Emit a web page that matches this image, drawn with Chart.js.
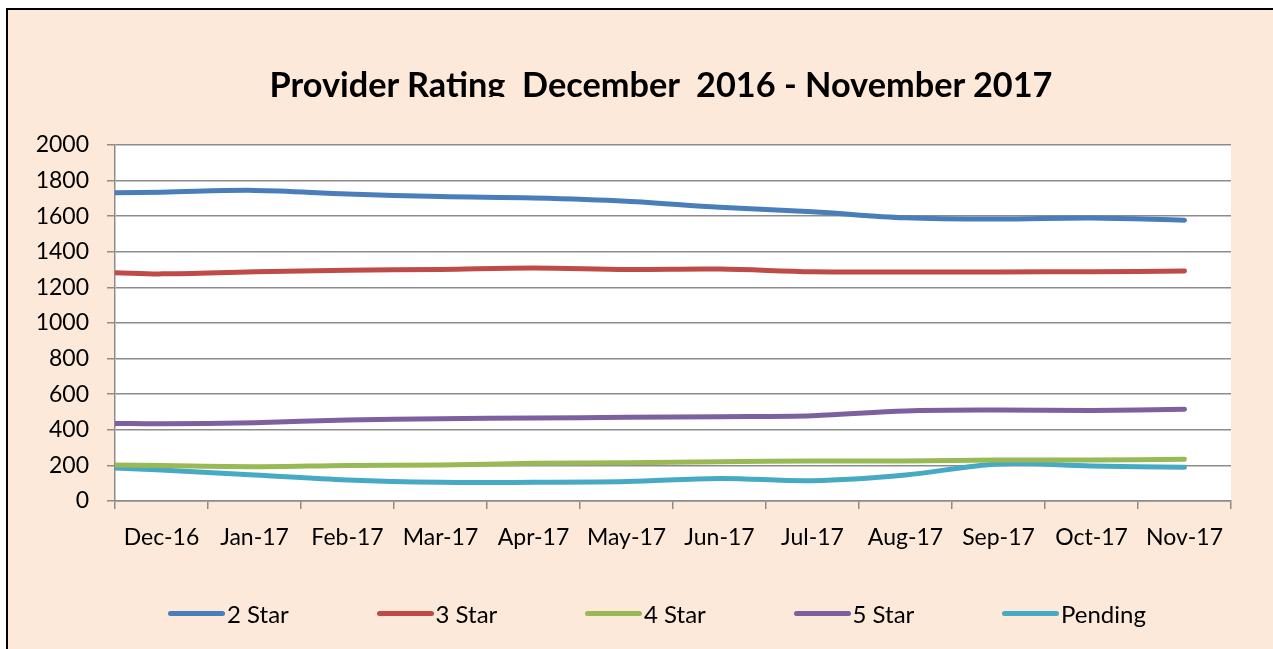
<!DOCTYPE html>
<html>
<head>
<meta charset="utf-8">
<title>Provider Rating</title>
<script src="https://cdn.jsdelivr.net/npm/chart.js@4.4.1/dist/chart.umd.min.js"></script>
<style>
    body { margin: 0; background: #ffffff; font-family: Lato, 'Open Sans', sans-serif; }
    #frame {
        position: absolute; left: 6px; top: 8px; width: 1300px; height: 700px;
        border: 2px solid #000; background: #fde9d9; overflow: hidden;
    }
    #titleClip { position: absolute; left: 0; top: 0; width: 1265px; height: 87px; overflow: hidden; }
    #chartTitle {
        position: absolute; left: 0; width: 1306px; top: 53px; text-align: center;
        font: bold 34.3px Lato, sans-serif; line-height: 1.2; color: #000; white-space: pre;
    }
    #chartBox { position: absolute; left: 0; top: 0; width: 1265px; height: 639px; }
    #legend { position: absolute; left: 0; top: 587px; width: 1265px; height: 40px; }
    .legend-item { position: absolute; top: 0; display: flex; align-items: center; height: 32px; font-size: 24px; color: #000; }
    .legend-line { width: 57px; height: 5px; border-radius: 3px; margin-right: 2px; }
</style>
</head>
<body>
<div id="frame">
    <div id="chartBox"><canvas id="ratingChart"></canvas></div>
    <div id="titleClip"><div id="chartTitle">Provider Rating  December  2016 - November 2017</div></div>
    <div id="legend"></div>
</div>
<script>
// --- 1. DATA ---
const months = ['Dec-16', 'Jan-17', 'Feb-17', 'Mar-17', 'Apr-17', 'May-17', 'Jun-17', 'Jul-17', 'Aug-17', 'Sep-17', 'Oct-17', 'Nov-17'];

const twoStar   = [1735, 1745, 1725, 1710, 1702, 1684, 1650, 1625, 1591, 1584, 1590, 1577];
const threeStar = [1276, 1288, 1296, 1301, 1309, 1301, 1303, 1288, 1287, 1287, 1288, 1292];
const fourStar  = [199, 193, 200, 202, 212, 215, 221, 225, 225, 230, 230, 234];
const fiveStar  = [434, 440, 455, 462, 466, 470, 474, 479, 506, 511, 509, 515];
const pending   = [174, 146, 118, 105, 105, 109, 127, 114, 146, 208, 197, 189];

// the lines run on past Dec-16 to the left axis edge, values read at that edge
const leftEdgeValues = [1732, 1283, 202, 436, 185];

const seriesNames = ['2 Star', '3 Star', '4 Star', '5 Star', 'Pending'];
const seriesColors = ['#4a7ebb', '#be4b48', '#98b954', '#7d60a0', '#46aac5'];
const seriesValues = [twoStar, threeStar, fourStar, fiveStar, pending];

const yTicks = [0, 200, 400, 600, 800, 1000, 1200, 1400, 1600, 1800, 2000];

// --- 2. BUILD DATASETS ---
const datasets = seriesValues.map((values, s) => {
    const points = [{ x: 0, y: leftEdgeValues[s] }];
    values.forEach((v, i) => points.push({ x: i + 0.5, y: v }));
    return {
        label: seriesNames[s],
        data: points,
        borderColor: seriesColors[s],
        backgroundColor: seriesColors[s],
        borderWidth: 5,
        borderCapStyle: 'round',
        borderJoinStyle: 'round',
        pointRadius: 0,
        tension: 0.35,
        clip: { left: 0, top: 10, right: 10, bottom: 10 }
    };
});

// white plot area on the peach background
const plotBackground = {
    id: 'plotBackground',
    beforeDraw(chart) {
        const { ctx, chartArea } = chart;
        ctx.save();
        ctx.fillStyle = '#ffffff';
        ctx.fillRect(chartArea.left, chartArea.top, chartArea.right - chartArea.left, chartArea.bottom - chartArea.top);
        ctx.restore();
    }
};

const gridGray = '#8c8c8c';
const tickFont = { family: 'Lato', size: 23 };

// --- 3. CHART ---
new Chart(document.getElementById('ratingChart'), {
    type: 'line',
    data: { datasets: datasets },
    plugins: [plotBackground],
    options: {
        responsive: true,
        maintainAspectRatio: false,
        animation: false,
        layout: { padding: { top: 135, right: 42, bottom: 78, left: 0 } },
        plugins: {
            legend: { display: false },
            tooltip: { enabled: false }
        },
        scales: {
            x: {
                type: 'linear',
                min: 0,
                max: months.length,
                afterBuildTicks: (scale) => {
                    scale.ticks = months.map((m, i) => ({ value: i + 0.5 }));
                },
                afterFit: (scale) => { scale.height = 70; },
                ticks: {
                    autoSkip: false,
                    maxRotation: 0,
                    color: '#000',
                    font: tickFont,
                    padding: 15,
                    callback: (value) => months[Math.floor(value)]
                },
                grid: { offset: true, drawOnChartArea: false, tickLength: 8, color: gridGray, lineWidth: 1.5 },
                border: { color: gridGray, width: 1.5 }
            },
            y: {
                min: 0,
                max: 2000,
                afterBuildTicks: (scale) => {
                    scale.ticks = yTicks.map(v => ({ value: v }));
                },
                afterFit: (scale) => { scale.width = 107; },
                ticks: { color: '#000', font: tickFont, padding: 18, callback: (value) => String(value) },
                grid: { tickLength: 8, color: gridGray, lineWidth: 1.5 },
                border: { color: gridGray, width: 1.5 }
            }
        }
    }
});

// --- 4. LEGEND ---
const legendEl = document.getElementById('legend');
seriesNames.forEach((name, s) => {
    const item = document.createElement('div');
    item.className = 'legend-item';
    item.style.left = (160 + s * 208.5) + 'px';
    item.innerHTML = `<span class="legend-line" style="background:${seriesColors[s]}"></span><span>${name}</span>`;
    legendEl.appendChild(item);
});
</script>
</body>
</html>
